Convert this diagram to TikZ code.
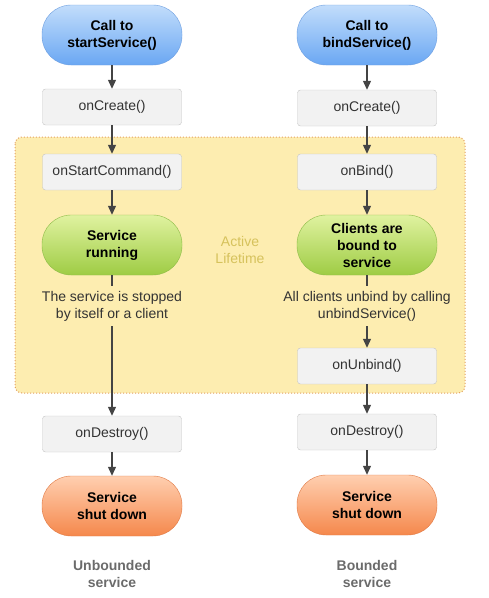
\documentclass[tikz,border=0pt]{standalone}
\usepackage{fontspec}
\setmainfont{Liberation Sans}
\usetikzlibrary{arrows.meta}
\definecolor{bluetop}{HTML}{C2DDFB}\definecolor{bluebot}{HTML}{6AA7F3}\definecolor{blueline}{HTML}{6E9FE0}
\definecolor{greentop}{HTML}{E0F2A0}\definecolor{greenbot}{HTML}{9ECC44}\definecolor{greenline}{HTML}{8DBB47}
\definecolor{orangetop}{HTML}{FFCFB0}\definecolor{orangebot}{HTML}{F5884C}\definecolor{orangeline}{HTML}{E07A45}
\definecolor{boxfill}{HTML}{F2F2F2}\definecolor{boxline}{HTML}{C4C4C4}
\definecolor{zonefill}{HTML}{FDEDB0}\definecolor{zoneline}{HTML}{E3A062}
\definecolor{lifetext}{HTML}{D6C25C}\definecolor{foottext}{HTML}{6B6B6B}
\definecolor{arrowgray}{HTML}{444444}\definecolor{darktext}{HTML}{333333}

\begin{document}
\begin{tikzpicture}[x=1pt,y=-1pt,font=\fontsize{14}{17}\selectfont,
  box/.style={draw=boxline,fill=boxfill,rounded corners=3pt,minimum width=139pt,minimum height=36pt,text=darktext},
  pill/.style={rounded corners=29pt,minimum width=140pt,minimum height=60pt,inner sep=2pt,align=center,font=\fontsize{14}{17}\selectfont\bfseries},
  callpill/.style={pill,draw=blueline,top color=bluetop,bottom color=bluebot},
  runpill/.style={pill,draw=greenline,top color=greentop,bottom color=greenbot},
  downpill/.style={pill,draw=orangeline,top color=orangetop,bottom color=orangebot},
  note/.style={align=center,text=darktext,inner sep=5pt},
  arr/.style={draw=arrowgray,line width=1.2pt,-{Triangle[length=9pt,width=8pt]}},
  plain/.style={draw=arrowgray,line width=1.2pt}]
\useasboundingbox (0,0) rectangle (489,598);
\draw[zoneline,fill=zonefill,line width=1pt,dotted,rounded corners=7pt] (15,137) rectangle (465,393);
\node[callpill] (callL) at (112,35) {Call to\\startService()};
\node[callpill] (callR) at (367,35) {Call to\\bindService()};
\node[box] (createL) at (112,107) {onCreate()};
\node[box] (createR) at (367,108) {onCreate()};
\node[box] (startcmd) at (112,172) {onStartCommand()};
\node[box] (bind) at (367,172) {onBind()};
\node[runpill] (running) at (112,245) {Service\\running};
\node[runpill] (bound) at (367,245) {Clients are\\bound to\\service};
\node[note] (stopped) at (112,306) {The service is stopped\\by itself or a client};
\node[note] (unbindall) at (367,306) {All clients unbind by calling\\unbindService()};
\node[box] (unbind) at (367,366) {onUnbind()};
\node[box] (destroyL) at (112,434) {onDestroy()};
\node[box] (destroyR) at (367,432) {onDestroy()};
\node[downpill] (downL) at (112,506) {Service\\shut down};
\node[downpill] (downR) at (367,505) {Service\\shut down};
\node[align=center,text=lifetext] (active) at (240,250) {Active\\Lifetime};
\node[align=center,text=foottext,font=\fontsize{14}{17}\selectfont\bfseries] (unbounded) at (112,574) {Unbounded\\service};
\node[align=center,text=foottext,font=\fontsize{14}{17}\selectfont\bfseries] (bounded) at (367,574) {Bounded\\service};
% left column
\draw[arr] (callL)--(createL);\draw[arr] (createL)--(startcmd);\draw[arr] (startcmd)--(running);
\draw[plain] (running)--(stopped);\draw[arr] (stopped)--(destroyL);\draw[arr] (destroyL)--(downL);
% right column
\draw[arr] (callR)--(createR);\draw[arr] (createR)--(bind);\draw[arr] (bind)--(bound);
\draw[plain] (bound)--(unbindall);\draw[arr] (unbindall)--(unbind);\draw[arr] (unbind)--(destroyR);\draw[arr] (destroyR)--(downR);
\end{tikzpicture}
\end{document}
